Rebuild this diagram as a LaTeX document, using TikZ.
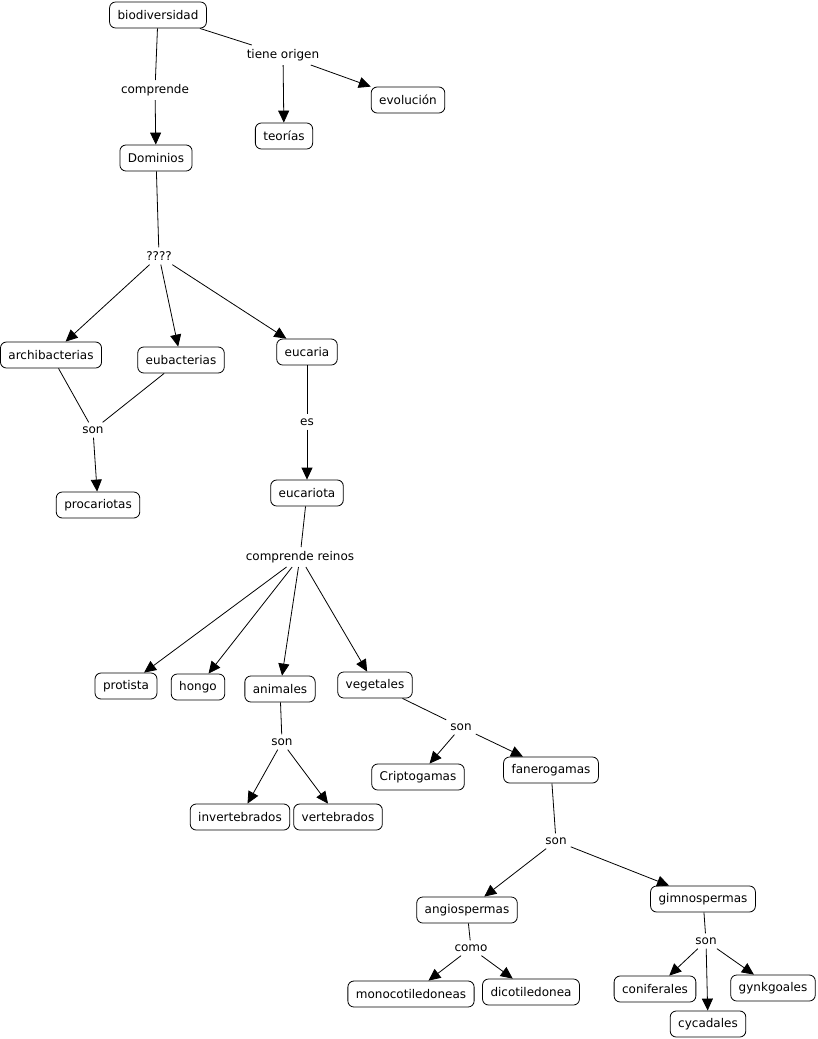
\documentclass[tikz,border=0pt]{standalone}
\usepackage{fontspec}
\setmainfont{DejaVu Sans}
\usetikzlibrary{arrows.meta}
\begin{document}
\begin{tikzpicture}[x=1pt,y=-1pt,
  concept/.style={draw, rounded corners=6pt, minimum height=26pt, inner xsep=8pt, inner ysep=0pt, font=\fontsize{12}{14}\selectfont, line width=0.8pt},
  link/.style={inner sep=4pt, font=\fontsize{12}{14}\selectfont},
  ln/.style={line width=0.8pt},
  arr/.style={line width=0.8pt, -{Triangle[length=12pt,width=11pt]}}]
\useasboundingbox (0,0) rectangle (817,1039);
% concepts
\node[concept] (bio) at (158,15) {biodiversidad};
\node[concept] (evo) at (408,100) {evolución};
\node[concept] (teo) at (284,136) {teorías};
\node[concept] (dom) at (156,158) {Dominios};
\node[concept] (arc) at (51,355) {archibacterias};
\node[concept] (eub) at (181,360) {eubacterias};
\node[concept] (euc) at (307,352) {eucaria};
\node[concept] (pro) at (98,505) {procariotas};
\node[concept] (eut) at (307,493) {eucariota};
\node[concept] (pst) at (126,686) {protista};
\node[concept] (hon) at (198,687) {hongo};
\node[concept] (ani) at (280,689) {animales};
\node[concept] (veg) at (375,685) {vegetales};
\node[concept] (cri) at (418,777) {Criptogamas};
\node[concept] (fan) at (551,770) {fanerogamas};
\node[concept] (inv) at (240,817) {invertebrados};
\node[concept] (ver) at (338,817) {vertebrados};
\node[concept] (ang) at (467,910) {angiospermas};
\node[concept] (gim) at (703,899) {gimnospermas};
\node[concept] (mon) at (411,994) {monocotiledoneas};
\node[concept] (dic) at (531,992) {dicotiledonea};
\node[concept] (con) at (655,989) {coniferales};
\node[concept] (cyc) at (708,1024) {cycadales};
\node[concept] (gyn) at (773,988) {gynkgoales};
% linking phrases
\node[link] (l1) at (155,90) {comprende};
\node[link] (l2) at (283,55) {tiene origen};
\node[link] (l3) at (159,256) {????};
\node[link] (l4) at (93,430) {son};
\node[link] (l5) at (307,422) {es};
\node[link] (l6) at (300,557) {comprende reinos};
\node[link] (l7) at (282,742) {son};
\node[link] (l8) at (461,727) {son};
\node[link] (l9) at (556,841) {son};
\node[link] (l10) at (471,948) {como};
\node[link] (l11) at (706,941) {son};
% connectors
\draw[ln] (bio) -- (l1); \draw[arr] (l1) -- (dom);
\draw[ln] (bio) -- (l2); \draw[arr] (l2) -- (teo); \draw[arr] (l2) -- (evo);
\draw[ln] (dom) -- (l3); \draw[arr] (l3) -- (arc); \draw[arr] (l3) -- (eub); \draw[arr] (l3) -- (euc);
\draw[ln] (arc) -- (l4); \draw[ln] (eub) -- (l4); \draw[arr] (l4) -- (pro);
\draw[ln] (euc) -- (l5); \draw[arr] (l5) -- (eut);
\draw[ln] (eut) -- (l6); \draw[arr] (l6) -- (pst); \draw[arr] (l6) -- (hon); \draw[arr] (l6) -- (ani); \draw[arr] (l6) -- (veg);
\draw[ln] (ani) -- (l7); \draw[arr] (l7) -- (inv); \draw[arr] (l7) -- (ver);
\draw[ln] (veg) -- (l8); \draw[arr] (l8) -- (cri); \draw[arr] (l8) -- (fan);
\draw[ln] (fan) -- (l9); \draw[arr] (l9) -- (ang); \draw[arr] (l9) -- (gim);
\draw[ln] (ang) -- (l10); \draw[arr] (l10) -- (mon); \draw[arr] (l10) -- (dic);
\draw[ln] (gim) -- (l11); \draw[arr] (l11) -- (con); \draw[arr] (l11) -- (cyc); \draw[arr] (l11) -- (gyn);
\end{tikzpicture}
\end{document}
